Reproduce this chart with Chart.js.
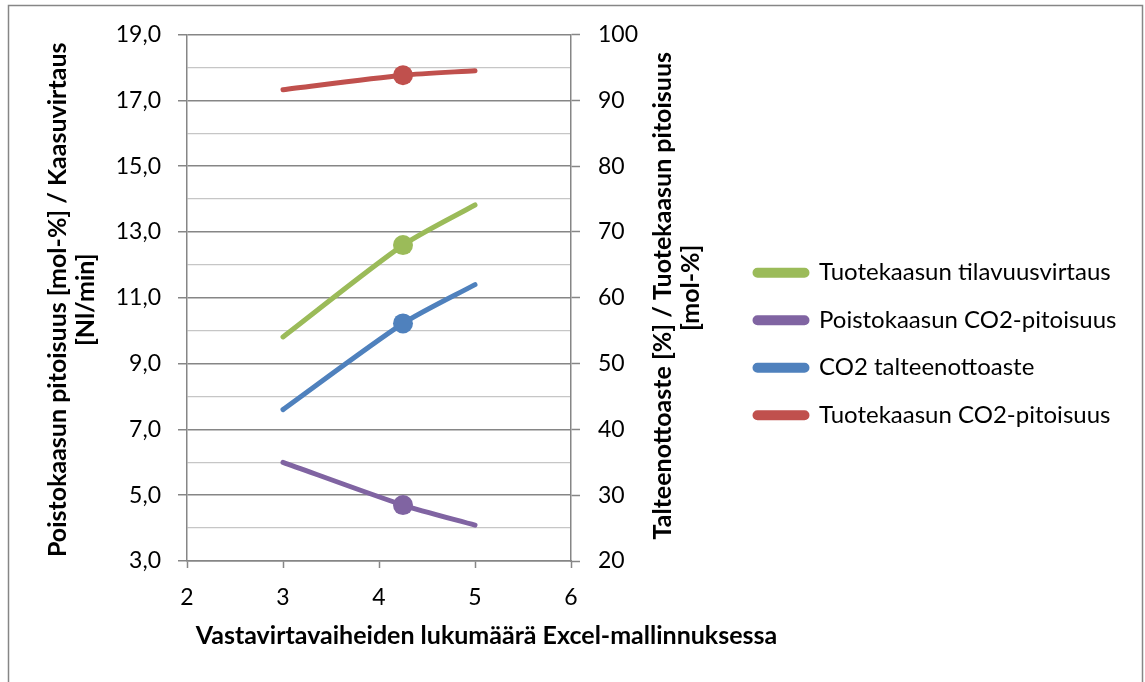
<!DOCTYPE html>
<html>
<head>
<meta charset="utf-8">
<script src="https://cdn.jsdelivr.net/npm/chart.js@4.4.1/dist/chart.umd.min.js"></script>
<style>
  html, body { margin: 0; padding: 0; background: #fff; }
  #wrap { width: 1145px; height: 682px; position: relative; }
</style>
</head>
<body>
<div id="wrap"><canvas id="chart" width="1145" height="682"></canvas></div>
<script>
// Number of counter-current stages in the Excel model
const stages = [3, 4.25, 5];

// Left axis series: mol-% / Nl/min
const productFlow = [9.81, 12.6, 13.82];      // Tuotekaasun tilavuusvirtaus
const exhaustCO2 = [6.0, 4.7, 4.09];          // Poistokaasun CO2-pitoisuus

// Right axis series: % / mol-%
const captureRate = [43.0, 56.1, 62.0];       // CO2 talteenottoaste
const productCO2 = [91.6, 93.8, 94.5];        // Tuotekaasun CO2-pitoisuus

const seriesNames = [
  'Tuotekaasun tilavuusvirtaus',
  'Poistokaasun CO2-pitoisuus',
  'CO2 talteenottoaste',
  'Tuotekaasun CO2-pitoisuus'
];

const xTitle = 'Vastavirtavaiheiden lukumäärä Excel-mallinnuksessa';
const leftTitle = ['Poistokaasun pitoisuus [mol-%] / Kaasuvirtaus', '[Nl/min]'];
const rightTitle = ['Talteenottoaste [%] / Tuotekaasun pitoisuus', '[mol-%]'];

const FONT = 'Lato, "DejaVu Sans", sans-serif';
const TICK_SIZE = 23;
const TITLE_SIZE = 25;
const LEG_SIZE = 24;
const LEG_STEP = 47.5;            // vertical distance between legend rows
const LEG_PAD = LEG_STEP - LEG_SIZE;
const LEG_BOX = 52;
const AXIS_GREY = '#868686';
const MINOR_GREY = '#c6c6c6';

// Plot frame
const W = 1145, H = 682;
const PLOT_LEFT = 187, PLOT_RIGHT = 571, PLOT_TOP = 34.5, PLOT_BOTTOM = 561;
const LEGEND_BOX_X = 755;
const LEGEND_FIRST_Y = 272.7;

// Bottom padding that puts the centred legend column at the wanted height
const colH = 4 * LEG_STEP;
const PAD_BOTTOM = PLOT_TOP + LEG_PAD + H - colH - 2 * (LEGEND_FIRST_Y - LEG_SIZE / 2);

// Right padding so the legend column starts where wanted
const measure = document.createElement('canvas').getContext('2d');
measure.font = `${LEG_SIZE}px ${FONT}`;
const maxLabelW = Math.max(...seriesNames.map(s => measure.measureText(s).width));
const legendW = LEG_PAD + LEG_BOX + LEG_SIZE / 2 + maxLabelW + 10;
const legendLeft = LEGEND_BOX_X - LEG_PAD;
const padRight = Math.max(0, W - legendLeft - legendW);

const point = (xs, ys) => xs.map((x, i) => ({ x, y: ys[i] }));
const markerRadius = [0, 10, 0];

function series(label, ys, color, axis) {
  return {
    label,
    data: point(stages, ys),
    yAxisID: axis,
    borderColor: color,
    backgroundColor: color,
    borderWidth: 5,
    borderCapStyle: 'round',
    borderJoinStyle: 'round',
    tension: 0.25,
    pointRadius: markerRadius,
    pointHoverRadius: markerRadius,
    pointBorderWidth: 0,
    pointBackgroundColor: color
  };
}

const decorations = {
  id: 'decorations',
  afterDraw(chart) {
    const { ctx, chartArea } = chart;
    ctx.save();
    // outer frame
    ctx.strokeStyle = AXIS_GREY;
    ctx.lineWidth = 1.5;
    ctx.strokeRect(8.5, 5.5, 1134, 700);

    ctx.fillStyle = '#000';
    ctx.font = `bold ${TITLE_SIZE}px ${FONT}`;
    ctx.textAlign = 'center';
    ctx.textBaseline = 'middle';
    const midY = (chartArea.top + chartArea.bottom) / 2;

    // left axis title, read bottom-to-top
    const leftX = [chartArea.left - 129.5, chartArea.left - 101.5];
    leftTitle.forEach((line, i) => {
      ctx.save();
      ctx.translate(leftX[i], midY + 2);
      ctx.rotate(-Math.PI / 2);
      ctx.fillText(line, 0, 0);
      ctx.restore();
    });

    // right axis title, also read bottom-to-top
    const rightX = [chartArea.right + 92, chartArea.right + 120];
    rightTitle.forEach((line, i) => {
      ctx.save();
      ctx.translate(rightX[i], midY - (i ? 10 : 2));
      ctx.rotate(-Math.PI / 2);
      ctx.fillText(line, 0, 0);
      ctx.restore();
    });

    // x axis title
    ctx.fillText(xTitle, chartArea.left + 299.5, chartArea.bottom + 75);
    ctx.restore();
  }
};

new Chart(document.getElementById('chart'), {
  type: 'line',
  data: {
    datasets: [
      series(seriesNames[0], productFlow, '#9BBB59', 'yLeft'),
      series(seriesNames[1], exhaustCO2, '#8064A2', 'yLeft'),
      series(seriesNames[2], captureRate, '#4F81BD', 'yRight'),
      series(seriesNames[3], productCO2, '#C0504D', 'yRight')
    ]
  },
  options: {
    responsive: false,
    animation: false,
    events: [],
    devicePixelRatio: 1,
    layout: { padding: { top: PLOT_TOP, bottom: PAD_BOTTOM, left: 0, right: padRight } },
    plugins: {
      tooltip: { enabled: false },
      legend: {
        position: 'right',
        align: 'center',
        maxWidth: 1000,
        labels: {
          boxWidth: LEG_BOX,
          boxHeight: 5,
          padding: LEG_PAD,
          color: '#000',
          useBorderRadius: true,
          borderRadius: 2.5,
          font: { family: FONT, size: LEG_SIZE }
        }
      }
    },
    scales: {
      x: {
        type: 'linear',
        position: 'bottom',
        min: 2,
        max: 6,
        ticks: {
          stepSize: 1,
          color: '#000',
          padding: 16,
          font: { family: FONT, size: TICK_SIZE }
        },
        grid: {
          drawOnChartArea: false,
          drawTicks: true,
          tickLength: 7,
          tickColor: AXIS_GREY,
          tickWidth: 1.5
        },
        border: { color: AXIS_GREY, width: 1.5 },
        afterFit(scale) { scale.height = H - PAD_BOTTOM - PLOT_BOTTOM; }
      },
      yLeft: {
        type: 'linear',
        position: 'left',
        min: 3,
        max: 19,
        ticks: {
          stepSize: 1,
          autoSkip: false,
          color: '#000',
          padding: 17,
          font: { family: FONT, size: TICK_SIZE },
          callback: v => (Math.round(v) % 2 === 1 ? v.toFixed(1).replace('.', ',') : '')
        },
        grid: {
          color: c => (Math.round(c.tick.value) % 2 === 1 ? AXIS_GREY : MINOR_GREY),
          lineWidth: c => (Math.round(c.tick.value) % 2 === 1 ? 1.5 : 1.3),
          tickColor: c => (Math.round(c.tick.value) % 2 === 1 ? AXIS_GREY : 'rgba(0,0,0,0)'),
          tickLength: 9,
          tickWidth: 1.5
        },
        border: { color: AXIS_GREY, width: 1.5 },
        afterFit(scale) { scale.width = PLOT_LEFT; }
      },
      yRight: {
        type: 'linear',
        position: 'right',
        min: 20,
        max: 100,
        ticks: {
          stepSize: 10,
          color: '#000',
          padding: 18,
          font: { family: FONT, size: TICK_SIZE }
        },
        grid: {
          drawOnChartArea: false,
          tickLength: 9,
          tickColor: AXIS_GREY,
          tickWidth: 1.5
        },
        border: { color: AXIS_GREY, width: 1.5 },
        afterFit(scale) { scale.width = legendLeft - PLOT_RIGHT; }
      }
    }
  },
  plugins: [decorations]
});
</script>
</body>
</html>
